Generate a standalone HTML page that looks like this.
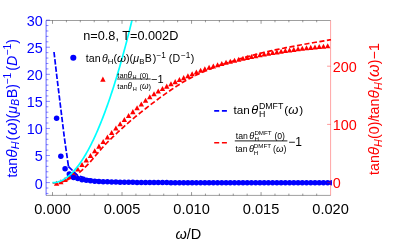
<!DOCTYPE html>
<html><head><meta charset="utf-8"><title>plot</title>
<style>html,body{margin:0;padding:0;background:#fff;width:395px;height:243px;overflow:hidden;font-family:"Liberation Sans",sans-serif}</style>
</head><body>
<svg width="395" height="243" viewBox="0 0 395 243" style="position:absolute;left:0;top:0;filter:blur(0.35px);font-family:'Liberation Sans',sans-serif">
<rect x="0" y="0" width="395" height="243" fill="#fff"/>
<defs><clipPath id="cp"><rect x="46.1" y="20.5" width="285.8" height="174.9"/></clipPath></defs>
<g clip-path="url(#cp)">
<path d="M52.70,182.80 L54.10,182.78 L55.50,182.74 L56.90,182.67 L58.29,182.58 L59.69,182.38 L61.09,182.06 L62.49,181.66 L63.89,181.23 L65.29,180.76 L66.68,180.19 L68.08,179.55 L69.48,178.86 L70.88,178.14 L72.28,177.36 L73.68,176.52 L75.08,175.62 L76.47,174.67 L77.87,173.64 L79.27,172.53 L80.67,171.36 L82.07,170.14 L83.47,168.86 L84.87,167.51 L86.26,166.10 L87.66,164.65 L89.06,163.17 L90.46,161.62 L91.86,160.03 L93.26,158.42 L94.65,156.77 L96.05,155.08 L97.45,153.38 L98.85,151.71 L100.25,150.09 L101.65,148.52 L103.05,146.98 L104.44,145.46 L105.84,143.96 L107.24,142.49 L108.64,141.06 L110.04,139.67 L111.44,138.30 L112.84,136.95 L114.23,135.63 L115.63,134.31 L117.03,133.00 L118.43,131.69 L119.83,130.38 L121.23,129.09 L122.62,127.80 L124.02,126.53 L125.42,125.27 L126.82,124.03 L128.22,122.81 L129.62,121.61 L131.02,120.41 L132.41,119.24 L133.81,118.07 L135.21,116.92 L136.61,115.77 L138.01,114.64 L139.41,113.51 L140.81,112.39 L142.20,111.28 L143.60,110.17 L145.00,109.07 L146.40,107.97 L147.80,106.88 L149.20,105.80 L150.59,104.72 L151.99,103.66 L153.39,102.59 L154.79,101.54 L156.19,100.50 L157.59,99.46 L158.99,98.43 L160.38,97.41 L161.78,96.40 L163.18,95.40 L164.58,94.40 L165.98,93.41 L167.38,92.43 L168.77,91.46 L170.17,90.50 L171.57,89.55 L172.97,88.61 L174.37,87.68 L175.77,86.76 L177.17,85.84 L178.56,84.94 L179.96,84.05 L181.36,83.18 L182.76,82.32 L184.16,81.49 L185.56,80.68 L186.96,79.90 L188.35,79.13 L189.75,78.38 L191.15,77.65 L192.55,76.93 L193.95,76.22 L195.35,75.53 L196.74,74.85 L198.14,74.18 L199.54,73.53 L200.94,72.89 L202.34,72.26 L203.74,71.64 L205.14,71.03 L206.53,70.43 L207.93,69.83 L209.33,69.25 L210.73,68.68 L212.13,68.12 L213.53,67.59 L214.93,67.07 L216.32,66.56 L217.72,66.07 L219.12,65.58 L220.52,65.10 L221.92,64.63 L223.32,64.16 L224.71,63.70 L226.11,63.25 L227.51,62.79 L228.91,62.35 L230.31,61.90 L231.71,61.46 L233.11,61.02 L234.50,60.58 L235.90,60.14 L237.30,59.71 L238.70,59.27 L240.10,58.85 L241.50,58.42 L242.89,58.00 L244.29,57.59 L245.69,57.18 L247.09,56.77 L248.49,56.37 L249.89,55.98 L251.29,55.59 L252.68,55.21 L254.08,54.84 L255.48,54.48 L256.88,54.12 L258.28,53.77 L259.68,53.42 L261.08,53.08 L262.47,52.75 L263.87,52.42 L265.27,52.10 L266.67,51.78 L268.07,51.47 L269.47,51.15 L270.86,50.85 L272.26,50.54 L273.66,50.24 L275.06,49.94 L276.46,49.65 L277.86,49.36 L279.26,49.07 L280.65,48.79 L282.05,48.50 L283.45,48.22 L284.85,47.95 L286.25,47.67 L287.65,47.40 L289.05,47.13 L290.44,46.86 L291.84,46.59 L293.24,46.33 L294.64,46.07 L296.04,45.81 L297.44,45.55 L298.83,45.29 L300.23,45.03 L301.63,44.77 L303.03,44.52 L304.43,44.26 L305.83,44.01 L307.23,43.76 L308.62,43.51 L310.02,43.26 L311.42,43.01 L312.82,42.77 L314.22,42.53 L315.62,42.28 L317.02,42.04 L318.41,41.80 L319.81,41.57 L321.21,41.33 L322.61,41.10 L324.01,40.87 L325.41,40.64 L326.80,40.41 L328.20,40.18 L329.60,39.96 L331.00,39.74" fill="none" stroke="#ff0000" stroke-width="1.7" stroke-dasharray="5.1,2.5" stroke-dashoffset="1.3"/>
<path d="M56.60,180.80 L59.30,185.85 L53.90,185.85Z" fill="#ff0000"/>
<path d="M60.83,179.30 L63.53,184.35 L58.13,184.35Z" fill="#ff0000"/>
<path d="M65.07,177.00 L67.77,182.05 L62.37,182.05Z" fill="#ff0000"/>
<path d="M69.30,174.00 L72.00,179.05 L66.60,179.05Z" fill="#ff0000"/>
<path d="M73.54,170.40 L76.24,175.45 L70.84,175.45Z" fill="#ff0000"/>
<path d="M77.78,166.40 L80.48,171.45 L75.08,171.45Z" fill="#ff0000"/>
<path d="M82.01,162.00 L84.71,167.05 L79.31,167.05Z" fill="#ff0000"/>
<path d="M86.25,157.50 L88.95,162.55 L83.55,162.55Z" fill="#ff0000"/>
<path d="M90.48,152.90 L93.18,157.95 L87.78,157.95Z" fill="#ff0000"/>
<path d="M94.72,148.30 L97.42,153.35 L92.02,153.35Z" fill="#ff0000"/>
<path d="M98.96,143.60 L101.66,148.65 L96.26,148.65Z" fill="#ff0000"/>
<path d="M103.19,139.00 L105.89,144.05 L100.49,144.05Z" fill="#ff0000"/>
<path d="M107.43,134.40 L110.13,139.45 L104.73,139.45Z" fill="#ff0000"/>
<path d="M111.66,129.90 L114.36,134.95 L108.96,134.95Z" fill="#ff0000"/>
<path d="M115.90,125.50 L118.60,130.55 L113.20,130.55Z" fill="#ff0000"/>
<path d="M120.14,121.19 L122.84,126.24 L117.44,126.24Z" fill="#ff0000"/>
<path d="M124.37,117.00 L127.07,122.05 L121.67,122.05Z" fill="#ff0000"/>
<path d="M128.61,113.00 L131.31,118.05 L125.91,118.05Z" fill="#ff0000"/>
<path d="M132.84,109.10 L135.54,114.15 L130.14,114.15Z" fill="#ff0000"/>
<path d="M137.08,105.21 L139.78,110.26 L134.38,110.26Z" fill="#ff0000"/>
<path d="M141.32,101.40 L144.02,106.45 L138.62,106.45Z" fill="#ff0000"/>
<path d="M145.55,97.67 L148.25,102.72 L142.85,102.72Z" fill="#ff0000"/>
<path d="M149.79,94.20 L152.49,99.25 L147.09,99.25Z" fill="#ff0000"/>
<path d="M154.02,91.15 L156.72,96.20 L151.32,96.20Z" fill="#ff0000"/>
<path d="M158.26,88.40 L160.96,93.45 L155.56,93.45Z" fill="#ff0000"/>
<path d="M162.50,85.92 L165.20,90.97 L159.80,90.97Z" fill="#ff0000"/>
<path d="M166.73,83.60 L169.43,88.65 L164.03,88.65Z" fill="#ff0000"/>
<path d="M170.97,81.30 L173.67,86.35 L168.27,86.35Z" fill="#ff0000"/>
<path d="M175.20,79.10 L177.90,84.15 L172.50,84.15Z" fill="#ff0000"/>
<path d="M179.44,77.06 L182.14,82.11 L176.74,82.11Z" fill="#ff0000"/>
<path d="M183.68,75.10 L186.38,80.15 L180.98,80.15Z" fill="#ff0000"/>
<path d="M187.91,73.17 L190.61,78.22 L185.21,78.22Z" fill="#ff0000"/>
<path d="M192.15,71.30 L194.85,76.35 L189.45,76.35Z" fill="#ff0000"/>
<path d="M196.38,69.44 L199.08,74.49 L193.68,74.49Z" fill="#ff0000"/>
<path d="M200.62,67.70 L203.32,72.75 L197.92,72.75Z" fill="#ff0000"/>
<path d="M204.86,66.19 L207.56,71.24 L202.16,71.24Z" fill="#ff0000"/>
<path d="M209.09,64.80 L211.79,69.85 L206.39,69.85Z" fill="#ff0000"/>
<path d="M213.33,63.47 L216.03,68.52 L210.63,68.52Z" fill="#ff0000"/>
<path d="M217.56,62.20 L220.26,67.25 L214.86,67.25Z" fill="#ff0000"/>
<path d="M221.80,60.96 L224.50,66.01 L219.10,66.01Z" fill="#ff0000"/>
<path d="M226.04,59.80 L228.74,64.85 L223.34,64.85Z" fill="#ff0000"/>
<path d="M230.27,58.72 L232.97,63.77 L227.57,63.77Z" fill="#ff0000"/>
<path d="M234.51,57.69 L237.21,62.74 L231.81,62.74Z" fill="#ff0000"/>
<path d="M238.74,56.70 L241.44,61.75 L236.04,61.75Z" fill="#ff0000"/>
<path d="M242.98,55.75 L245.68,60.80 L240.28,60.80Z" fill="#ff0000"/>
<path d="M247.22,54.84 L249.92,59.89 L244.52,59.89Z" fill="#ff0000"/>
<path d="M251.45,53.97 L254.15,59.02 L248.75,59.02Z" fill="#ff0000"/>
<path d="M255.69,53.13 L258.39,58.18 L252.99,58.18Z" fill="#ff0000"/>
<path d="M259.92,52.31 L262.62,57.36 L257.22,57.36Z" fill="#ff0000"/>
<path d="M264.16,51.53 L266.86,56.58 L261.46,56.58Z" fill="#ff0000"/>
<path d="M268.40,50.77 L271.10,55.82 L265.70,55.82Z" fill="#ff0000"/>
<path d="M272.63,50.04 L275.33,55.09 L269.93,55.09Z" fill="#ff0000"/>
<path d="M276.87,49.34 L279.57,54.39 L274.17,54.39Z" fill="#ff0000"/>
<path d="M281.10,48.67 L283.80,53.72 L278.40,53.72Z" fill="#ff0000"/>
<path d="M285.34,48.02 L288.04,53.07 L282.64,53.07Z" fill="#ff0000"/>
<path d="M289.58,47.41 L292.28,52.46 L286.88,52.46Z" fill="#ff0000"/>
<path d="M293.81,46.83 L296.51,51.88 L291.11,51.88Z" fill="#ff0000"/>
<path d="M298.05,46.30 L300.75,51.35 L295.35,51.35Z" fill="#ff0000"/>
<path d="M302.28,45.80 L304.98,50.85 L299.58,50.85Z" fill="#ff0000"/>
<path d="M306.52,45.32 L309.22,50.37 L303.82,50.37Z" fill="#ff0000"/>
<path d="M310.76,44.86 L313.46,49.91 L308.06,49.91Z" fill="#ff0000"/>
<path d="M314.99,44.43 L317.69,49.48 L312.29,49.48Z" fill="#ff0000"/>
<path d="M319.23,44.02 L321.93,49.07 L316.53,49.07Z" fill="#ff0000"/>
<path d="M323.46,43.64 L326.16,48.69 L320.76,48.69Z" fill="#ff0000"/>
<path d="M327.70,43.30 L330.40,48.35 L325.00,48.35Z" fill="#ff0000"/>
<path d="M54.00,52.00 L56.90,77.00 L64.40,138.00 L68.50,166.60" fill="none" stroke="#0000ff" stroke-width="1.7" stroke-dasharray="5.4,1.86,5.4,1.86,5.4,1.86,5.4,1.86,5.4,1.86,5.4,1.86,5.4,1.86,5.4,1.86,5.4,1.86,5.4,1.86,5.4,1.86,5.4,1.86,5.4,1.86,5.4,1.86,5.4,1.86,8,100"/>
<path d="M68.50,166.60 L78.00,175.80 L90.00,179.30 L105.00,181.00 L130.00,182.00 L180.00,182.50 L332.00,182.70" fill="none" stroke="#0000ff" stroke-width="1.7" stroke-dasharray="5.6,2" stroke-linejoin="round"/>
<circle cx="56.60" cy="118.20" r="2.75" fill="#0000ff"/>
<circle cx="60.83" cy="156.20" r="2.75" fill="#0000ff"/>
<circle cx="65.07" cy="168.80" r="2.75" fill="#0000ff"/>
<circle cx="69.30" cy="174.00" r="2.75" fill="#0000ff"/>
<circle cx="73.54" cy="177.40" r="2.75" fill="#0000ff"/>
<circle cx="77.78" cy="178.55" r="2.75" fill="#0000ff"/>
<circle cx="82.01" cy="179.65" r="2.75" fill="#0000ff"/>
<circle cx="86.25" cy="180.35" r="2.75" fill="#0000ff"/>
<circle cx="90.48" cy="180.84" r="2.75" fill="#0000ff"/>
<circle cx="94.72" cy="181.19" r="2.75" fill="#0000ff"/>
<circle cx="98.96" cy="181.46" r="2.75" fill="#0000ff"/>
<circle cx="103.19" cy="181.67" r="2.75" fill="#0000ff"/>
<circle cx="107.43" cy="181.83" r="2.75" fill="#0000ff"/>
<circle cx="111.66" cy="181.96" r="2.75" fill="#0000ff"/>
<circle cx="115.90" cy="182.07" r="2.75" fill="#0000ff"/>
<circle cx="120.14" cy="182.17" r="2.75" fill="#0000ff"/>
<circle cx="124.37" cy="182.24" r="2.75" fill="#0000ff"/>
<circle cx="128.61" cy="182.31" r="2.75" fill="#0000ff"/>
<circle cx="132.84" cy="182.36" r="2.75" fill="#0000ff"/>
<circle cx="137.08" cy="182.42" r="2.75" fill="#0000ff"/>
<circle cx="141.32" cy="182.46" r="2.75" fill="#0000ff"/>
<circle cx="145.55" cy="182.50" r="2.75" fill="#0000ff"/>
<circle cx="149.79" cy="182.53" r="2.75" fill="#0000ff"/>
<circle cx="154.02" cy="182.56" r="2.75" fill="#0000ff"/>
<circle cx="158.26" cy="182.58" r="2.75" fill="#0000ff"/>
<circle cx="162.50" cy="182.60" r="2.75" fill="#0000ff"/>
<circle cx="166.73" cy="182.62" r="2.75" fill="#0000ff"/>
<circle cx="170.97" cy="182.64" r="2.75" fill="#0000ff"/>
<circle cx="175.20" cy="182.65" r="2.75" fill="#0000ff"/>
<circle cx="179.44" cy="182.67" r="2.75" fill="#0000ff"/>
<circle cx="183.68" cy="182.68" r="2.75" fill="#0000ff"/>
<circle cx="187.91" cy="182.69" r="2.75" fill="#0000ff"/>
<circle cx="192.15" cy="182.70" r="2.75" fill="#0000ff"/>
<circle cx="196.38" cy="182.71" r="2.75" fill="#0000ff"/>
<circle cx="200.62" cy="182.72" r="2.75" fill="#0000ff"/>
<circle cx="204.86" cy="182.73" r="2.75" fill="#0000ff"/>
<circle cx="209.09" cy="182.74" r="2.75" fill="#0000ff"/>
<circle cx="213.33" cy="182.75" r="2.75" fill="#0000ff"/>
<circle cx="217.56" cy="182.75" r="2.75" fill="#0000ff"/>
<circle cx="221.80" cy="182.76" r="2.75" fill="#0000ff"/>
<circle cx="226.04" cy="182.76" r="2.75" fill="#0000ff"/>
<circle cx="230.27" cy="182.77" r="2.75" fill="#0000ff"/>
<circle cx="234.51" cy="182.77" r="2.75" fill="#0000ff"/>
<circle cx="238.74" cy="182.78" r="2.75" fill="#0000ff"/>
<circle cx="242.98" cy="182.78" r="2.75" fill="#0000ff"/>
<circle cx="247.22" cy="182.79" r="2.75" fill="#0000ff"/>
<circle cx="251.45" cy="182.79" r="2.75" fill="#0000ff"/>
<circle cx="255.69" cy="182.80" r="2.75" fill="#0000ff"/>
<circle cx="259.92" cy="182.80" r="2.75" fill="#0000ff"/>
<circle cx="264.16" cy="182.80" r="2.75" fill="#0000ff"/>
<circle cx="268.40" cy="182.81" r="2.75" fill="#0000ff"/>
<circle cx="272.63" cy="182.81" r="2.75" fill="#0000ff"/>
<circle cx="276.87" cy="182.81" r="2.75" fill="#0000ff"/>
<circle cx="281.10" cy="182.81" r="2.75" fill="#0000ff"/>
<circle cx="285.34" cy="182.82" r="2.75" fill="#0000ff"/>
<circle cx="289.58" cy="182.82" r="2.75" fill="#0000ff"/>
<circle cx="293.81" cy="182.82" r="2.75" fill="#0000ff"/>
<circle cx="298.05" cy="182.82" r="2.75" fill="#0000ff"/>
<circle cx="302.28" cy="182.83" r="2.75" fill="#0000ff"/>
<circle cx="306.52" cy="182.83" r="2.75" fill="#0000ff"/>
<circle cx="310.76" cy="182.83" r="2.75" fill="#0000ff"/>
<circle cx="314.99" cy="182.83" r="2.75" fill="#0000ff"/>
<circle cx="319.23" cy="182.83" r="2.75" fill="#0000ff"/>
<circle cx="323.46" cy="182.83" r="2.75" fill="#0000ff"/>
<circle cx="327.70" cy="182.83" r="2.75" fill="#0000ff"/>
<circle cx="331.94" cy="182.83" r="2.75" fill="#0000ff"/>
<path d="M52.50,182.70 L53.54,182.67 L54.59,182.59 L55.63,182.45 L56.68,182.25 L57.72,182.00 L58.77,181.69 L59.81,181.33 L60.85,180.91 L61.90,180.43 L62.94,179.90 L63.99,179.31 L65.03,178.66 L66.08,177.96 L67.12,177.21 L68.16,176.39 L69.21,175.52 L70.25,174.60 L71.30,173.62 L72.34,172.58 L73.39,171.49 L74.43,170.34 L75.47,169.13 L76.52,167.87 L77.56,166.56 L78.61,165.18 L79.65,163.75 L80.70,162.27 L81.74,160.73 L82.78,159.13 L83.83,157.48 L84.87,155.77 L85.92,154.00 L86.96,152.18 L88.01,150.30 L89.05,148.37 L90.09,146.38 L91.14,144.33 L92.18,142.23 L93.23,140.07 L94.27,137.86 L95.32,135.59 L96.36,133.26 L97.41,130.88 L98.45,128.44 L99.49,125.94 L100.54,123.39 L101.58,120.79 L102.63,118.12 L103.67,115.41 L104.72,112.63 L105.76,109.80 L106.80,106.91 L107.85,103.97 L108.89,100.97 L109.94,97.92 L110.98,94.81 L112.03,91.64 L113.07,88.41 L114.11,85.14 L115.16,81.80 L116.20,78.41 L117.25,74.96 L118.29,71.46 L119.34,67.90 L120.38,64.28 L121.42,60.61 L122.47,56.88 L123.51,53.10 L124.56,49.26 L125.60,45.36 L126.65,41.41 L127.69,37.40 L128.73,33.34 L129.78,29.22 L130.82,25.04 L131.87,20.81 L132.91,16.52 L133.96,12.18 L135.00,7.78" fill="none" stroke="#00ffff" stroke-width="1.7"/>
</g>
<line x1="46.1" y1="20.5" x2="46.1" y2="195.4" stroke="#0000ff" stroke-width="1" stroke-opacity="0.6"/>
<line x1="330.6" y1="20.5" x2="330.6" y2="195.4" stroke="#ff0000" stroke-width="0.9" stroke-opacity="0.4"/>
<line x1="46.1" y1="20.5" x2="330.6" y2="20.5" stroke="#000" stroke-width="0.9" stroke-opacity="0.42"/>
<line x1="46.1" y1="195.4" x2="330.6" y2="195.4" stroke="#000" stroke-width="0.9" stroke-opacity="0.42"/>
<line x1="52.50" y1="195.4" x2="52.50" y2="192.1" stroke="#000" stroke-width="0.8" stroke-opacity="0.5"/>
<line x1="52.50" y1="20.5" x2="52.50" y2="23.8" stroke="#000" stroke-width="0.8" stroke-opacity="0.5"/>
<line x1="66.41" y1="195.4" x2="66.41" y2="193.6" stroke="#000" stroke-width="0.8" stroke-opacity="0.5"/>
<line x1="66.41" y1="20.5" x2="66.41" y2="22.3" stroke="#000" stroke-width="0.8" stroke-opacity="0.5"/>
<line x1="80.31" y1="195.4" x2="80.31" y2="193.6" stroke="#000" stroke-width="0.8" stroke-opacity="0.5"/>
<line x1="80.31" y1="20.5" x2="80.31" y2="22.3" stroke="#000" stroke-width="0.8" stroke-opacity="0.5"/>
<line x1="94.22" y1="195.4" x2="94.22" y2="193.6" stroke="#000" stroke-width="0.8" stroke-opacity="0.5"/>
<line x1="94.22" y1="20.5" x2="94.22" y2="22.3" stroke="#000" stroke-width="0.8" stroke-opacity="0.5"/>
<line x1="108.12" y1="195.4" x2="108.12" y2="193.6" stroke="#000" stroke-width="0.8" stroke-opacity="0.5"/>
<line x1="108.12" y1="20.5" x2="108.12" y2="22.3" stroke="#000" stroke-width="0.8" stroke-opacity="0.5"/>
<line x1="122.02" y1="195.4" x2="122.02" y2="192.1" stroke="#000" stroke-width="0.8" stroke-opacity="0.5"/>
<line x1="122.02" y1="20.5" x2="122.02" y2="23.8" stroke="#000" stroke-width="0.8" stroke-opacity="0.5"/>
<line x1="135.93" y1="195.4" x2="135.93" y2="193.6" stroke="#000" stroke-width="0.8" stroke-opacity="0.5"/>
<line x1="135.93" y1="20.5" x2="135.93" y2="22.3" stroke="#000" stroke-width="0.8" stroke-opacity="0.5"/>
<line x1="149.83" y1="195.4" x2="149.83" y2="193.6" stroke="#000" stroke-width="0.8" stroke-opacity="0.5"/>
<line x1="149.83" y1="20.5" x2="149.83" y2="22.3" stroke="#000" stroke-width="0.8" stroke-opacity="0.5"/>
<line x1="163.74" y1="195.4" x2="163.74" y2="193.6" stroke="#000" stroke-width="0.8" stroke-opacity="0.5"/>
<line x1="163.74" y1="20.5" x2="163.74" y2="22.3" stroke="#000" stroke-width="0.8" stroke-opacity="0.5"/>
<line x1="177.64" y1="195.4" x2="177.64" y2="193.6" stroke="#000" stroke-width="0.8" stroke-opacity="0.5"/>
<line x1="177.64" y1="20.5" x2="177.64" y2="22.3" stroke="#000" stroke-width="0.8" stroke-opacity="0.5"/>
<line x1="191.55" y1="195.4" x2="191.55" y2="192.1" stroke="#000" stroke-width="0.8" stroke-opacity="0.5"/>
<line x1="191.55" y1="20.5" x2="191.55" y2="23.8" stroke="#000" stroke-width="0.8" stroke-opacity="0.5"/>
<line x1="205.45" y1="195.4" x2="205.45" y2="193.6" stroke="#000" stroke-width="0.8" stroke-opacity="0.5"/>
<line x1="205.45" y1="20.5" x2="205.45" y2="22.3" stroke="#000" stroke-width="0.8" stroke-opacity="0.5"/>
<line x1="219.36" y1="195.4" x2="219.36" y2="193.6" stroke="#000" stroke-width="0.8" stroke-opacity="0.5"/>
<line x1="219.36" y1="20.5" x2="219.36" y2="22.3" stroke="#000" stroke-width="0.8" stroke-opacity="0.5"/>
<line x1="233.26" y1="195.4" x2="233.26" y2="193.6" stroke="#000" stroke-width="0.8" stroke-opacity="0.5"/>
<line x1="233.26" y1="20.5" x2="233.26" y2="22.3" stroke="#000" stroke-width="0.8" stroke-opacity="0.5"/>
<line x1="247.17" y1="195.4" x2="247.17" y2="193.6" stroke="#000" stroke-width="0.8" stroke-opacity="0.5"/>
<line x1="247.17" y1="20.5" x2="247.17" y2="22.3" stroke="#000" stroke-width="0.8" stroke-opacity="0.5"/>
<line x1="261.07" y1="195.4" x2="261.07" y2="192.1" stroke="#000" stroke-width="0.8" stroke-opacity="0.5"/>
<line x1="261.07" y1="20.5" x2="261.07" y2="23.8" stroke="#000" stroke-width="0.8" stroke-opacity="0.5"/>
<line x1="274.98" y1="195.4" x2="274.98" y2="193.6" stroke="#000" stroke-width="0.8" stroke-opacity="0.5"/>
<line x1="274.98" y1="20.5" x2="274.98" y2="22.3" stroke="#000" stroke-width="0.8" stroke-opacity="0.5"/>
<line x1="288.88" y1="195.4" x2="288.88" y2="193.6" stroke="#000" stroke-width="0.8" stroke-opacity="0.5"/>
<line x1="288.88" y1="20.5" x2="288.88" y2="22.3" stroke="#000" stroke-width="0.8" stroke-opacity="0.5"/>
<line x1="302.79" y1="195.4" x2="302.79" y2="193.6" stroke="#000" stroke-width="0.8" stroke-opacity="0.5"/>
<line x1="302.79" y1="20.5" x2="302.79" y2="22.3" stroke="#000" stroke-width="0.8" stroke-opacity="0.5"/>
<line x1="316.69" y1="195.4" x2="316.69" y2="193.6" stroke="#000" stroke-width="0.8" stroke-opacity="0.5"/>
<line x1="316.69" y1="20.5" x2="316.69" y2="22.3" stroke="#000" stroke-width="0.8" stroke-opacity="0.5"/>
<line x1="46.1" y1="193.43" x2="48.4" y2="193.43" stroke="#0000ff" stroke-width="0.8" stroke-opacity="0.6"/>
<line x1="46.1" y1="188.01" x2="48.4" y2="188.01" stroke="#0000ff" stroke-width="0.8" stroke-opacity="0.6"/>
<line x1="46.1" y1="182.60" x2="49.9" y2="182.60" stroke="#0000ff" stroke-width="0.8" stroke-opacity="0.6"/>
<line x1="46.1" y1="177.19" x2="48.4" y2="177.19" stroke="#0000ff" stroke-width="0.8" stroke-opacity="0.6"/>
<line x1="46.1" y1="171.77" x2="48.4" y2="171.77" stroke="#0000ff" stroke-width="0.8" stroke-opacity="0.6"/>
<line x1="46.1" y1="166.35" x2="48.4" y2="166.35" stroke="#0000ff" stroke-width="0.8" stroke-opacity="0.6"/>
<line x1="46.1" y1="160.94" x2="48.4" y2="160.94" stroke="#0000ff" stroke-width="0.8" stroke-opacity="0.6"/>
<line x1="46.1" y1="155.53" x2="49.9" y2="155.53" stroke="#0000ff" stroke-width="0.8" stroke-opacity="0.6"/>
<line x1="46.1" y1="150.11" x2="48.4" y2="150.11" stroke="#0000ff" stroke-width="0.8" stroke-opacity="0.6"/>
<line x1="46.1" y1="144.69" x2="48.4" y2="144.69" stroke="#0000ff" stroke-width="0.8" stroke-opacity="0.6"/>
<line x1="46.1" y1="139.28" x2="48.4" y2="139.28" stroke="#0000ff" stroke-width="0.8" stroke-opacity="0.6"/>
<line x1="46.1" y1="133.87" x2="48.4" y2="133.87" stroke="#0000ff" stroke-width="0.8" stroke-opacity="0.6"/>
<line x1="46.1" y1="128.45" x2="49.9" y2="128.45" stroke="#0000ff" stroke-width="0.8" stroke-opacity="0.6"/>
<line x1="46.1" y1="123.03" x2="48.4" y2="123.03" stroke="#0000ff" stroke-width="0.8" stroke-opacity="0.6"/>
<line x1="46.1" y1="117.62" x2="48.4" y2="117.62" stroke="#0000ff" stroke-width="0.8" stroke-opacity="0.6"/>
<line x1="46.1" y1="112.20" x2="48.4" y2="112.20" stroke="#0000ff" stroke-width="0.8" stroke-opacity="0.6"/>
<line x1="46.1" y1="106.79" x2="48.4" y2="106.79" stroke="#0000ff" stroke-width="0.8" stroke-opacity="0.6"/>
<line x1="46.1" y1="101.38" x2="49.9" y2="101.38" stroke="#0000ff" stroke-width="0.8" stroke-opacity="0.6"/>
<line x1="46.1" y1="95.96" x2="48.4" y2="95.96" stroke="#0000ff" stroke-width="0.8" stroke-opacity="0.6"/>
<line x1="46.1" y1="90.54" x2="48.4" y2="90.54" stroke="#0000ff" stroke-width="0.8" stroke-opacity="0.6"/>
<line x1="46.1" y1="85.13" x2="48.4" y2="85.13" stroke="#0000ff" stroke-width="0.8" stroke-opacity="0.6"/>
<line x1="46.1" y1="79.71" x2="48.4" y2="79.71" stroke="#0000ff" stroke-width="0.8" stroke-opacity="0.6"/>
<line x1="46.1" y1="74.30" x2="49.9" y2="74.30" stroke="#0000ff" stroke-width="0.8" stroke-opacity="0.6"/>
<line x1="46.1" y1="68.88" x2="48.4" y2="68.88" stroke="#0000ff" stroke-width="0.8" stroke-opacity="0.6"/>
<line x1="46.1" y1="63.47" x2="48.4" y2="63.47" stroke="#0000ff" stroke-width="0.8" stroke-opacity="0.6"/>
<line x1="46.1" y1="58.05" x2="48.4" y2="58.05" stroke="#0000ff" stroke-width="0.8" stroke-opacity="0.6"/>
<line x1="46.1" y1="52.64" x2="48.4" y2="52.64" stroke="#0000ff" stroke-width="0.8" stroke-opacity="0.6"/>
<line x1="46.1" y1="47.22" x2="49.9" y2="47.22" stroke="#0000ff" stroke-width="0.8" stroke-opacity="0.6"/>
<line x1="46.1" y1="41.81" x2="48.4" y2="41.81" stroke="#0000ff" stroke-width="0.8" stroke-opacity="0.6"/>
<line x1="46.1" y1="36.39" x2="48.4" y2="36.39" stroke="#0000ff" stroke-width="0.8" stroke-opacity="0.6"/>
<line x1="46.1" y1="30.98" x2="48.4" y2="30.98" stroke="#0000ff" stroke-width="0.8" stroke-opacity="0.6"/>
<line x1="46.1" y1="25.56" x2="48.4" y2="25.56" stroke="#0000ff" stroke-width="0.8" stroke-opacity="0.6"/>
<line x1="46.1" y1="20.15" x2="49.9" y2="20.15" stroke="#0000ff" stroke-width="0.8" stroke-opacity="0.6"/>
<line x1="330.6" y1="182.60" x2="327.1" y2="182.60" stroke="#ff0000" stroke-width="0.8" stroke-opacity="0.5"/>
<line x1="330.6" y1="124.40" x2="327.1" y2="124.40" stroke="#ff0000" stroke-width="0.8" stroke-opacity="0.5"/>
<line x1="330.6" y1="66.20" x2="327.1" y2="66.20" stroke="#ff0000" stroke-width="0.8" stroke-opacity="0.5"/>
<text x="52.50" y="214.3" font-size="14.6" text-anchor="middle" fill="#000">0.000</text>
<text x="122.02" y="214.3" font-size="14.6" text-anchor="middle" fill="#000">0.005</text>
<text x="191.55" y="214.3" font-size="14.6" text-anchor="middle" fill="#000">0.010</text>
<text x="261.07" y="214.3" font-size="14.6" text-anchor="middle" fill="#000">0.015</text>
<text x="330.60" y="214.3" font-size="14.6" text-anchor="middle" fill="#000">0.020</text>
<text x="42.7" y="188.50" font-size="14.4" text-anchor="end" fill="#0000ff">0</text>
<text x="42.7" y="161.43" font-size="14.4" text-anchor="end" fill="#0000ff">5</text>
<text x="42.7" y="134.35" font-size="14.4" text-anchor="end" fill="#0000ff">10</text>
<text x="42.7" y="107.28" font-size="14.4" text-anchor="end" fill="#0000ff">15</text>
<text x="42.7" y="80.20" font-size="14.4" text-anchor="end" fill="#0000ff">20</text>
<text x="42.7" y="53.12" font-size="14.4" text-anchor="end" fill="#0000ff">25</text>
<text x="42.7" y="26.05" font-size="14.4" text-anchor="end" fill="#0000ff">30</text>
<text x="332.8" y="188.40" font-size="14.4" text-anchor="start" fill="#ff0000">0</text>
<text x="332.8" y="130.20" font-size="14.4" text-anchor="start" fill="#ff0000">100</text>
<text x="332.8" y="72.00" font-size="14.4" text-anchor="start" fill="#ff0000">200</text>
<text x="188.3" y="238.6" font-size="14.5" text-anchor="middle" fill="#000"><tspan font-style="italic">ω</tspan>/D</text>
<g transform="translate(16.6,177.6) rotate(-90)"><text x="0" y="0" font-size="14.3" fill="#0000ff">tan<tspan font-style="italic" font-size="15.4">θ</tspan><tspan font-style="italic" font-size="10.8" dy="2.5" dx="0.2">H</tspan><tspan dy="-2.5" dx="0.9">(</tspan><tspan font-style="italic" dx="0.6" font-size="16.2">ω</tspan><tspan dx="-0.2">)</tspan><tspan dx="-0.5">(</tspan><tspan font-style="italic">μ</tspan><tspan font-style="italic" font-size="10.4" dy="2.5">B</tspan><tspan dy="-2.5" dx="0.5">B</tspan><tspan dx="0.2">)</tspan><tspan font-size="10.4" dy="-5.5" dx="-0.6">−1</tspan><tspan dy="5.5" dx="1.9">(</tspan><tspan font-style="italic">D</tspan><tspan font-size="10.4" dy="-5.5">−1</tspan><tspan dy="5.5">)</tspan></text></g>
<g transform="translate(379.2,175) rotate(-90)"><text x="0" y="0" font-size="14.3" fill="#ff0000">tan<tspan font-style="italic" font-size="15.4">θ</tspan><tspan font-style="italic" font-size="10.8" dy="2.5" dx="-0.1">H</tspan><tspan dy="-2.5" dx="0">(0)/</tspan><tspan dx="-0.8">tan</tspan><tspan font-style="italic" font-size="15.4">θ</tspan><tspan font-style="italic" font-size="10.8" dy="2.5" dx="0.2">H</tspan><tspan dy="-2.5" dx="0.5">(</tspan><tspan font-style="italic" font-size="16.2" dx="0">ω</tspan><tspan dx="0.1">)−1</tspan></text></g>
<text x="83.3" y="40.4" font-size="12.7" fill="#000">n=0.8, T=0.002D</text>
<circle cx="73.3" cy="57.8" r="3.05" fill="#0000ff"/>
<text x="85.8" y="62" font-size="10.6" fill="#000">tan<tspan font-style="italic" dx="1.5">θ</tspan><tspan font-size="7.8" dy="1.6">H</tspan><tspan dy="-1.6">(</tspan><tspan font-style="italic" font-size="11.6">ω</tspan>)(<tspan font-style="italic" dx="0.3">μ</tspan><tspan font-size="7.8" dy="1.6">B</tspan><tspan dy="-1.6" dx="0.5">B</tspan><tspan dx="0.8">)</tspan><tspan font-size="8.2" dy="-4" dx="0.2">−1</tspan><tspan dy="4"> (</tspan><tspan dx="0.3">D</tspan><tspan font-size="8.2" dy="-4" dx="0.8">−1</tspan><tspan dy="4" dx="0.3">)</tspan></text>
<path d="M102.9,76.6 L105.6,81.7 L100.2,81.7Z" fill="#ff0000"/>
<text x="117.3" y="77.7" font-size="7.5" fill="#000">tan<tspan font-style="italic" font-size="8.2" x="127.4">θ</tspan><tspan font-size="5.6" x="132.5" y="78.9">H</tspan><tspan x="139.4" y="77.7">(0)</tspan></text>
<line x1="117.1" y1="79.0" x2="150.7" y2="79.0" stroke="#000" stroke-width="0.8"/>
<text x="117.3" y="89.4" font-size="7.5" fill="#000">tan<tspan font-style="italic" font-size="8.2" x="127.6">θ</tspan><tspan font-size="5.6" x="132.7" y="90.6">H</tspan><tspan x="139.4" y="89.4">(</tspan><tspan font-style="italic" font-size="8.4">ω</tspan>)</text>
<text x="151" y="83" font-size="11" fill="#000">−1</text>
<path d="M214.2,110.9 L219.2,110.9 M221.9,110.9 L226.9,110.9" stroke="#0000ff" stroke-width="1.6"/>
<text x="233.4" y="113.9" font-size="11.7" fill="#000">tan<tspan font-style="italic" font-size="12.8" x="251.3">θ</tspan><tspan font-size="8.8" x="258.9" y="117.4">H</tspan><tspan font-size="8.8" x="258.9" y="109.3">DMFT</tspan><tspan x="284.3" y="113.9">(</tspan><tspan font-style="italic" font-size="13" x="288.2">ω</tspan><tspan x="299.2">)</tspan></text>
<path d="M214.2,142.7 L219.2,142.7 M221.9,142.7 L226.9,142.7" stroke="#ff0000" stroke-width="1.6"/>
<text x="235.8" y="138.8" font-size="8.7" fill="#000">tan<tspan font-style="italic" font-size="9.3" x="249.3">θ</tspan><tspan font-size="6.2" x="254.4" y="141.3">H</tspan><tspan font-size="6.2" x="254.4" y="134.6">DMFT</tspan><tspan x="274.4" y="138.8">(0)</tspan></text>
<line x1="234.8" y1="140.9" x2="287.4" y2="140.9" stroke="#000" stroke-width="0.9"/>
<text x="235.4" y="152.4" font-size="8.7" fill="#000">tan<tspan font-style="italic" font-size="9.3" x="248.9">θ</tspan><tspan font-size="6.2" x="253.8" y="154.6">H</tspan><tspan font-size="6.2" x="253.8" y="148.0">DMFT</tspan><tspan x="273" y="152.4">(</tspan><tspan font-style="italic" font-size="9.6">ω</tspan>)</text>
<text x="288.2" y="145.9" font-size="12" fill="#000">−1</text>
</svg>
</body></html>
